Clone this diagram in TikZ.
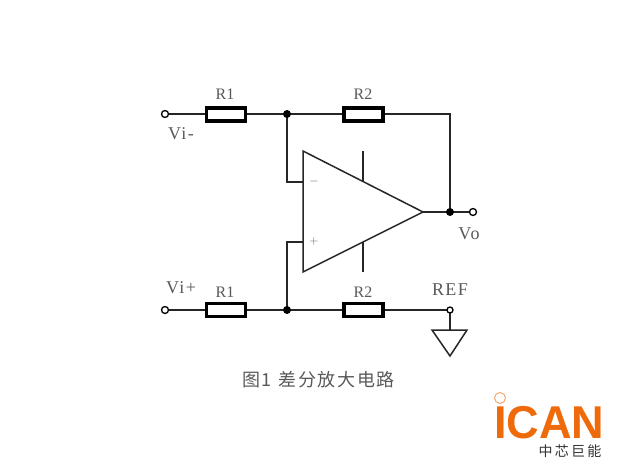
\documentclass[tikz,border=0pt]{standalone}
\usepackage{fontspec}
\setmainfont{Liberation Serif}
\newfontfamily\labfont[LetterSpace=8]{Liberation Serif}
\newfontfamily\cjkfont[LetterSpace=9]{Noto Sans CJK SC}
\newfontfamily\logocjk[LetterSpace=16]{Noto Sans CJK SC}
\newfontfamily\logofont[FakeStretch=0.98]{Liberation Sans}
\definecolor{labelgray}{gray}{0.35}
\definecolor{logoorange}{RGB}{238,106,10}
\tikzset{
  wire/.style={line width=1.5pt, black!85},
  lead/.style={line width=2.2pt, black!85},
  res/.style={rectangle, draw, line width=3.4pt, fill=white, minimum width=39pt, minimum height=13pt, inner sep=0pt},
  port/.style={circle, draw, line width=1.3pt, fill=white, minimum size=7pt, inner sep=0pt},
  dotj/.style={circle, fill=black, minimum size=8pt, inner sep=0pt},
  lab/.style={text=labelgray, inner sep=0pt, font=\fontsize{16}{16}\selectfont},
  labl/.style={text=labelgray, inner sep=0pt, font=\labfont\fontsize{18}{18}\selectfont},
  sign/.style={text=labelgray, inner sep=0pt, font=\large}
}
\begin{document}
\begin{tikzpicture}[x=1pt, y=-1pt]
  \useasboundingbox (0,0) rectangle (634,468);
  % amplifier corners
  \coordinate (opa) at (303,151);
  \coordinate (opb) at (303,272);
  \coordinate (opc) at (423,212);
  \coordinate (inm) at (303,182);
  \coordinate (inp) at (303,242);
  \coordinate (supa) at (363,151);
  \coordinate (supb) at (363,181);
  \coordinate (supc) at (363,242);
  \coordinate (supd) at (363,272);
  \coordinate (corm) at (287,182);
  \coordinate (corp) at (287,242);
  \coordinate (corf) at (450,114);
  \coordinate (gnd) at (450,330);
  \coordinate (gnda) at (432,330);
  \coordinate (gndb) at (467,330);
  \coordinate (gndc) at (450,356);
  % wires
  \coordinate (vimc) at (165,114);
  \coordinate (vipc) at (165,310);
  \coordinate (voc) at (473,212);
  \coordinate (refc) at (450,310);
  \coordinate (jac) at (287,114);
  \coordinate (jbc) at (287,310);
  \coordinate (jcc) at (450,212);
  \draw[wire] (vimc) -- (jac) -- (corf) -- (jcc) -- (voc);
  \draw[wire] (vipc) -- (jbc) -- (refc) -- (gnd);
  \draw[wire] (jac) -- (corm) -- (inm);
  \draw[wire] (jbc) -- (corp) -- (inp);
  \draw[wire] (opc) -- (jcc);
  % ports, junctions, resistors
  \node[port] (vim) at (vimc) {};
  \node[port] (vip) at (vipc) {};
  \node[port] (vo) at (voc) {};
  \node[port, minimum size=6pt] (ref) at (refc) {};
  \node[dotj] (ja) at (jac) {};
  \node[dotj] (jb) at (jbc) {};
  \node[dotj] (jc) at (jcc) {};
  \draw[lead] (196,114) -- (258,114);
  \draw[lead] (334,114) -- (395,114);
  \draw[lead] (196,310) -- (258,310);
  \draw[lead] (334,310) -- (395,310);
  \node[res] (r1a) at (226,114.5) {};
  \node[res] (r2a) at (363.5,114.5) {};
  \node[res] (r1b) at (226,310) {};
  \node[res] (r2b) at (363.5,310) {};
  \draw[wire, line join=miter] (opa) -- (opc) -- (opb) -- cycle;
  \draw[wire] (supa) -- (supb);
  \draw[wire] (supc) -- (supd);
  \draw[wire, line join=miter] (gnda) -- (gndb) -- (gndc) -- cycle;
  % labels
  \node[lab] (tr1a) at (225,94) {R1};
  \node[lab] (tr2a) at (363,94) {R2};
  \node[lab] (tr1b) at (225,292) {R1};
  \node[lab] (tr2b) at (363,292) {R2};
  \node[labl] (tvim) at (181,134) {Vi-};
  \node[labl] (tvip) at (181,288) {Vi+};
  \node[labl] (tvo) at (469,234) {Vo};
  \node[labl] (tref) at (450,290) {REF};
  \node[sign] (tm) at (314,181) {$-$};
  \node[sign] (tp) at (314,241) {$+$};
  \node[lab, text=black!65, font=\cjkfont\fontsize{18}{18}\selectfont] (cap) at (318.5,380) {图1\hspace{7pt}差分放大电路};
  % logo
  \node[inner sep=0pt, anchor=base west, text depth=0pt, text=logoorange, font=\logofont\bfseries\fontsize{46}{46}\selectfont] (logo) at (494,438) {ICAN};
  \node[circle, draw=logoorange!60, line width=1pt, minimum size=11pt, inner sep=0pt] (logoi) at (500,398) {};
  \node[inner sep=0pt, text=black!80, font=\logocjk\fontsize{14}{14}\selectfont] (logot) at (570,451) {中芯巨能};
\end{tikzpicture}
\end{document}
